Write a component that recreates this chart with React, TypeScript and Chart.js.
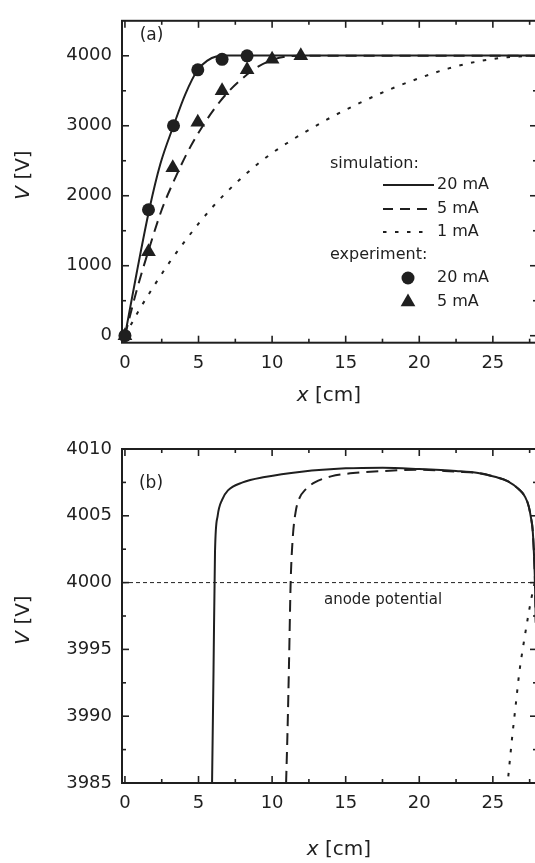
import React, { useEffect, useRef } from "react";
import { Chart, registerables } from "chart.js";

Chart.register(...registerables);

// ---------------- data ----------------
const X_TICKS = [0, 5, 10, 15, 20, 25];
const X_MINOR_TICKS = [2.5, 7.5, 12.5, 17.5, 22.5, 27.5];
const A_Y_TICKS = [0, 1000, 2000, 3000, 4000];
const A_Y_MINOR_TICKS = [500, 1500, 2500, 3500];
const B_Y_TICKS = [3985, 3990, 3995, 4000, 4005, 4010];
const B_Y_MINOR_TICKS = [3987.5, 3992.5, 3997.5, 4002.5, 4007.5];

// panel (a): simulation curves
const A_SIM20_X = [0, 0.8, 1.65, 2.4, 3.3, 4.1, 4.95, 5.6, 6.2, 7.0, 28];
const A_SIM20_V = [0, 900, 1800, 2450, 3000, 3450, 3800, 3930, 3990, 4003, 4003];
const A_SIM5_X = [0, 0.8, 1.65, 2.5, 3.3, 4.2, 5.0, 6.0, 7.0, 8.0, 9.0, 10.0, 11.0, 12.0, 28];
const A_SIM5_V = [0, 650, 1250, 1800, 2200, 2600, 2900, 3220, 3480, 3680, 3840, 3940, 3990, 4000, 4000];
const A_SIM1_X = [0, 1, 2, 3, 4, 5, 6, 7, 8, 9, 10, 11, 12, 14, 16, 18, 20, 22, 24, 26, 28];
const A_SIM1_V = [0, 380, 720, 1040, 1330, 1600, 1850, 2070, 2270, 2450, 2610, 2750, 2880, 3120, 3330, 3520, 3680, 3820, 3920, 3980, 4000];

// panel (a): experiment points
const EXP20_X = [0, 1.6, 3.3, 4.95, 6.6, 8.3];
const EXP20_V = [0, 1800, 3000, 3800, 3950, 4000];
const EXP5_X = [0, 1.6, 3.25, 4.95, 6.6, 8.3, 10, 11.95];
const EXP5_V = [0, 1200, 2400, 3050, 3500, 3800, 3950, 4000];

// panel (b): zoom near the anode potential
const B_SIM20_X = [5.92, 6.02, 6.12, 6.3, 6.6, 7.0, 8.0, 9.5, 12, 15, 17.5, 20, 22.5, 24, 25.2, 26, 26.75, 27.2, 27.44, 27.6, 27.7, 27.78, 27.85, 27.92];
const B_SIM20_V = [3985, 3993.5, 4002.3, 4005.0, 4006.2, 4006.9, 4007.5, 4007.9, 4008.3, 4008.55, 4008.6, 4008.5, 4008.35, 4008.2, 4007.9, 4007.6, 4007.0, 4006.4, 4005.7, 4004.8, 4004.0, 4002.5, 4000.5, 3997];
const B_SIM5_X = [10.95, 11.05, 11.15, 11.26, 11.4, 11.6, 11.85, 12.3, 12.9, 14, 15.5, 17.5, 20, 22.5, 24, 25.2, 26, 26.75, 27.2, 27.44, 27.6, 27.7, 27.78, 27.85, 27.92];
const B_SIM5_V = [3985, 3989, 3994, 4000, 4003.3, 4005.3, 4006.3, 4007.0, 4007.5, 4007.95, 4008.2, 4008.35, 4008.45, 4008.3, 4008.2, 4007.9, 4007.6, 4007.0, 4006.4, 4005.7, 4004.8, 4004.0, 4002.5, 4000.5, 3997];
const B_SIM1_X = [26.05, 26.3, 26.55, 26.8, 27.1, 27.4, 27.65, 27.85, 28];
const B_SIM1_V = [3985.5, 3988.3, 3990.8, 3993.3, 3995.5, 3997.5, 3999, 4000, 4000.5];
const ANODE_X = [-0.2, 28];
const ANODE_V = [4000, 4000];

// texts
const PANEL_A = "(a)";
const PANEL_B = "(b)";
const LEGEND_SIM = "simulation:";
const LEGEND_EXP = "experiment:";
const LEGEND_LABELS = ["20 mA", "5 mA", "1 mA"];
const LEGEND_EXP_LABELS = ["20 mA", "5 mA"];
const ANODE_LABEL = "anode potential";
const X_TITLE = ["x", " [cm]"];
const Y_TITLE = ["V", " [V]"];

// ---------------- styling ----------------
const FONT = '"DejaVu Sans", sans-serif';
const INK = "#1f1f1f";

const pts = (xs: number[], ys: number[]) => xs.map((x, i) => ({ x, y: ys[i] }));

function simLine(label: string, xs: number[], ys: number[], dash: number[], width = 2) {
  return {
    label,
    data: pts(xs, ys),
    borderColor: INK,
    borderWidth: width,
    borderDash: dash,
    pointRadius: 0,
    pointHoverRadius: 0,
    fill: false,
    showLine: true,
    cubicInterpolationMode: "monotone",
  };
}

function markers(label: string, xs: number[], ys: number[], style: string, r: number) {
  return {
    label,
    data: pts(xs, ys),
    showLine: false,
    pointStyle: style,
    pointRadius: r,
    pointHoverRadius: r,
    pointBackgroundColor: INK,
    pointBorderColor: INK,
    pointBorderWidth: 0,
    clip: false,
  };
}

function scales(yMin: number, yMax: number, yTicks: number[], xAxisHeight: number) {
  const tickFont = { family: FONT, size: 18 };
  return {
    x: {
      type: "linear",
      min: -0.2,
      max: 28,
      grid: { display: false, drawTicks: false },
      border: { display: false },
      ticks: { color: INK, font: tickFont, padding: 10, maxRotation: 0, autoSkip: false, callback: (v: any) => String(v) },
      afterBuildTicks: (s: any) => {
        s.ticks = X_TICKS.map((v) => ({ value: v }));
      },
      afterFit: (s: any) => {
        s.height = xAxisHeight;
      },
    },
    y: {
      type: "linear",
      min: yMin,
      max: yMax,
      grid: { display: false, drawTicks: false },
      border: { display: false },
      ticks: { color: INK, font: tickFont, padding: 10, autoSkip: false, callback: (v: any) => String(v) },
      afterBuildTicks: (s: any) => {
        s.ticks = yTicks.map((v) => ({ value: v }));
      },
      afterFit: (s: any) => {
        s.width = 122;
      },
    },
  };
}

function frameTicks(yMinor: number[]) {
  return {
    id: "frameTicks",
    beforeDatasetsDraw(chart: any) {
      const { ctx, chartArea: a, scales: sc } = chart;
      const xs = sc.x;
      const ys = sc.y;
      ctx.save();
      ctx.strokeStyle = INK;
      ctx.lineWidth = 2;
      ctx.strokeRect(a.left, a.top, a.right - a.left, a.bottom - a.top);
      ctx.lineWidth = 1.6;
      const seg = (x1: number, y1: number, x2: number, y2: number) => {
        ctx.beginPath();
        ctx.moveTo(x1, y1);
        ctx.lineTo(x2, y2);
        ctx.stroke();
      };
      const xt = (v: number, L: number) => {
        const p = xs.getPixelForValue(v);
        seg(p, a.bottom, p, a.bottom - L);
        seg(p, a.top, p, a.top + L);
      };
      const yt = (v: number, L: number) => {
        const p = ys.getPixelForValue(v);
        seg(a.left, p, a.left + L, p);
        seg(a.right, p, a.right - L, p);
      };
      xs.ticks.forEach((t: any) => xt(t.value, 7));
      X_MINOR_TICKS.forEach((v) => xt(v, 4));
      ys.ticks.forEach((t: any) => yt(t.value, 7));
      yMinor.forEach((v) => yt(v, 4));
      ctx.restore();
    },
  };
}

function drawMixed(ctx: any, parts: string[], cx: number, cy: number, size: number, rotate: boolean) {
  ctx.save();
  ctx.translate(cx, cy);
  if (rotate) ctx.rotate(-Math.PI / 2);
  const fI = `italic ${size}px ${FONT}`;
  const fN = `${size}px ${FONT}`;
  ctx.font = fI;
  const w1 = ctx.measureText(parts[0]).width;
  ctx.font = fN;
  const w2 = ctx.measureText(parts[1]).width;
  const x0 = -(w1 + w2) / 2;
  ctx.textBaseline = "middle";
  ctx.textAlign = "left";
  ctx.fillStyle = INK;
  ctx.font = fI;
  ctx.fillText(parts[0], x0, 0);
  ctx.font = fN;
  ctx.fillText(parts[1], x0 + w1, 0);
  ctx.restore();
}

function seg(ctx: any, x1: number, y1: number, x2: number, y2: number, dash: number[]) {
  ctx.save();
  ctx.setLineDash(dash);
  ctx.lineWidth = 2;
  ctx.strokeStyle = INK;
  ctx.beginPath();
  ctx.moveTo(x1, y1);
  ctx.lineTo(x2, y2);
  ctx.stroke();
  ctx.restore();
}

const topDeco = {
  id: "topDeco",
  afterDraw(chart: any) {
    const ctx = chart.ctx;
    ctx.save();
    ctx.fillStyle = INK;
    ctx.textBaseline = "middle";
    ctx.textAlign = "center";
    ctx.font = `17px ${FONT}`;
    ctx.fillText(PANEL_A, 151.5, 36);

    ctx.textAlign = "left";
    ctx.font = `16px ${FONT}`;
    ctx.fillText(LEGEND_SIM, 330, 164);
    seg(ctx, 383, 185, 434, 185, []);
    seg(ctx, 383, 209, 434, 209, [10, 7]);
    seg(ctx, 383, 232, 426, 232, [3.5, 8.5]);
    ctx.fillText(LEGEND_LABELS[0], 437, 185);
    ctx.fillText(LEGEND_LABELS[1], 437, 209);
    ctx.fillText(LEGEND_LABELS[2], 437, 232);
    ctx.fillText(LEGEND_EXP, 330, 255);
    ctx.beginPath();
    ctx.arc(408, 278, 6.5, 0, Math.PI * 2);
    ctx.fill();
    const r = 8.5;
    ctx.beginPath();
    ctx.moveTo(408, 302 - r);
    ctx.lineTo(408 + (r * Math.sqrt(3)) / 2, 302 + r / 2);
    ctx.lineTo(408 - (r * Math.sqrt(3)) / 2, 302 + r / 2);
    ctx.closePath();
    ctx.fill();
    ctx.fillText(LEGEND_EXP_LABELS[0], 437, 278);
    ctx.fillText(LEGEND_EXP_LABELS[1], 437, 302);
    ctx.restore();

    drawMixed(ctx, X_TITLE, 329, 396, 20, false);
    drawMixed(ctx, Y_TITLE, 24, 175, 20, true);
  },
};

const bottomDeco = {
  id: "bottomDeco",
  afterDraw(chart: any) {
    const ctx = chart.ctx;
    ctx.save();
    ctx.fillStyle = INK;
    ctx.textBaseline = "middle";
    ctx.textAlign = "center";
    ctx.font = `17px ${FONT}`;
    ctx.fillText(PANEL_B, 151, 63.5);
    ctx.font = `15px ${FONT}`;
    ctx.fillText(ANODE_LABEL, 383, 180);
    ctx.restore();
    drawMixed(ctx, X_TITLE, 339, 430, 20, false);
    drawMixed(ctx, Y_TITLE, 24, 200, 20, true);
  },
};

function baseOptions(yMin: number, yMax: number, yTicks: number[], xAxisHeight: number, padTop: number) {
  return {
    animation: false,
    responsive: false,
    devicePixelRatio: 1,
    events: [],
    layout: { autoPadding: false, padding: { left: 0, right: 0, top: padTop, bottom: 0 } },
    plugins: { legend: { display: false }, tooltip: { enabled: false }, title: { display: false } },
    scales: scales(yMin, yMax, yTicks, xAxisHeight),
  };
}

export default function App() {
  const topRef = useRef<HTMLCanvasElement>(null);
  const botRef = useRef<HTMLCanvasElement>(null);

  useEffect(() => {
    const top = new Chart(topRef.current as HTMLCanvasElement, {
      type: "line",
      data: {
        datasets: [
          markers("exp 20 mA", EXP20_X, EXP20_V, "circle", 6.5),
          markers("exp 5 mA", EXP5_X, EXP5_V, "triangle", 8.5),
          simLine("sim 20 mA", A_SIM20_X, A_SIM20_V, []),
          simLine("sim 5 mA", A_SIM5_X, A_SIM5_V, [11, 7]),
          simLine("sim 1 mA", A_SIM1_X, A_SIM1_V, [3.5, 8.5]),
        ] as any,
      },
      options: baseOptions(-100, 4500, A_Y_TICKS, 77.3, 10) as any,
      plugins: [frameTicks(A_Y_MINOR_TICKS), topDeco] as any,
    });
    const bottom = new Chart(botRef.current as HTMLCanvasElement, {
      type: "line",
      data: {
        datasets: [
          simLine("sim 20 mA", B_SIM20_X, B_SIM20_V, []),
          simLine("sim 5 mA", B_SIM5_X, B_SIM5_V, [12, 7]),
          simLine("sim 1 mA", B_SIM1_X, B_SIM1_V, [3.5, 8.5]),
          { ...simLine("anode", ANODE_X, ANODE_V, [4, 3], 1), cubicInterpolationMode: "default", tension: 0 },
        ] as any,
      },
      options: baseOptions(3985, 4010, B_Y_TICKS, 80, 29) as any,
      plugins: [frameTicks(B_Y_MINOR_TICKS), bottomDeco] as any,
    });
    return () => {
      top.destroy();
      bottom.destroy();
    };
  }, []);

  return (
    <div style={{ position: "absolute", left: 0, top: 0, width: 535, height: 863, overflow: "hidden", background: "#fff" }}>
      <canvas ref={topRef} width={537} height={420} style={{ position: "absolute", left: 0, top: 0, width: 537, height: 420 }} />
      <canvas ref={botRef} width={537} height={443} style={{ position: "absolute", left: 0, top: 420, width: 537, height: 443 }} />
    </div>
  );
}
